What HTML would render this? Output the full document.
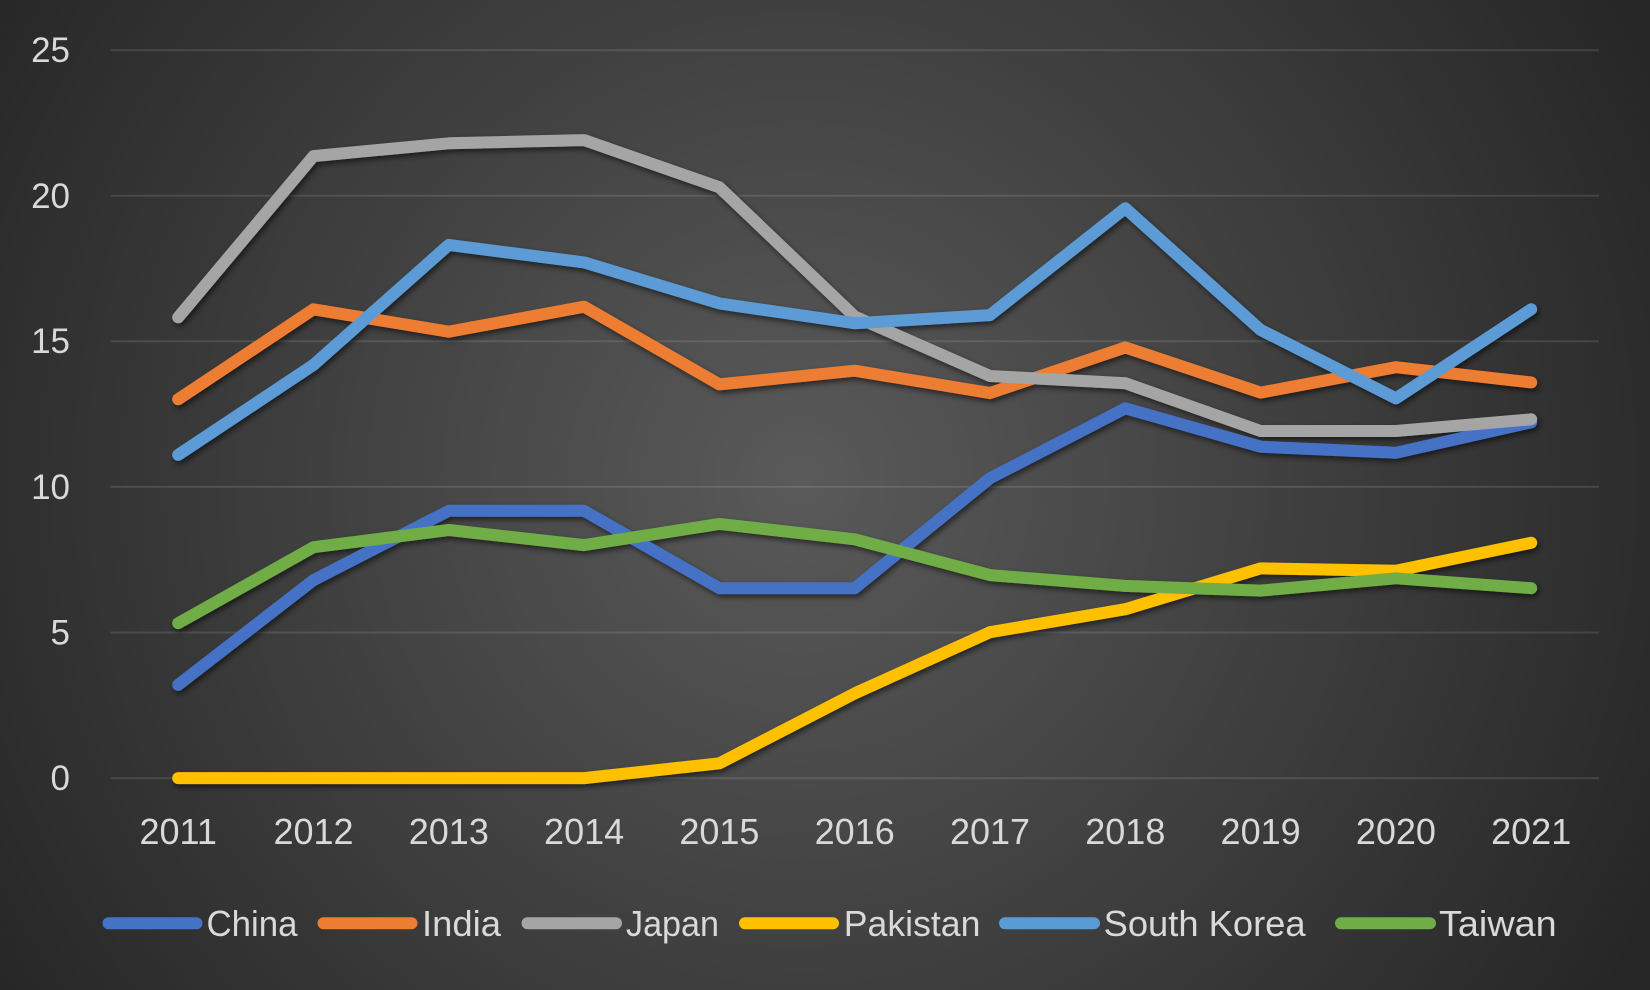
<!DOCTYPE html>
<html>
<head>
<meta charset="utf-8">
<style>
html,body{margin:0;padding:0;}
body{width:1650px;height:990px;overflow:hidden;background:#2a2a2a;}
svg{display:block;}
text{font-family:"Liberation Sans",sans-serif;fill:#d9d9d9;}
</style>
</head>
<body>
<svg width="1650" height="990" viewBox="0 0 1650 990" xmlns="http://www.w3.org/2000/svg">
<defs>
<radialGradient id="bg" cx="800" cy="480" r="960" gradientUnits="userSpaceOnUse">
<stop offset="0" stop-color="#5a5a5a"/>
<stop offset="1" stop-color="#262626"/>
</radialGradient>
<filter id="sh" x="-5%" y="-10%" width="110%" height="120%">
<feDropShadow dx="2" dy="3" stdDeviation="3" flood-color="#000" flood-opacity="0.55"/>
</filter>
</defs>
<rect x="0" y="0" width="1650" height="990" fill="url(#bg)"/>

<!-- gridlines -->
<g stroke="rgba(255,255,255,0.11)" stroke-width="2">
<line x1="110.5" y1="50.1" x2="1599" y2="50.1"/>
<line x1="110.5" y1="195.7" x2="1599" y2="195.7"/>
<line x1="110.5" y1="341.3" x2="1599" y2="341.3"/>
<line x1="110.5" y1="486.9" x2="1599" y2="486.9"/>
<line x1="110.5" y1="632.5" x2="1599" y2="632.5"/>
<line x1="110.5" y1="778.1" x2="1599" y2="778.1"/>
</g>

<!-- y labels -->
<g font-size="35" text-anchor="end">
<text x="70" y="790">0</text>
<text x="70" y="644.5">5</text>
<text x="70" y="499">10</text>
<text x="70" y="353">15</text>
<text x="70" y="208">20</text>
<text x="70" y="62">25</text>
</g>

<!-- x labels -->
<g font-size="36" text-anchor="middle">
<text x="178.2" y="844">2011</text>
<text x="313.5" y="844">2012</text>
<text x="448.8" y="844">2013</text>
<text x="584.1" y="844">2014</text>
<text x="719.4" y="844">2015</text>
<text x="854.7" y="844">2016</text>
<text x="990" y="844">2017</text>
<text x="1125.3" y="844">2018</text>
<text x="1260.6" y="844">2019</text>
<text x="1395.9" y="844">2020</text>
<text x="1531.2" y="844">2021</text>
</g>

<!-- series -->
<g fill="none" stroke-width="12" stroke-linejoin="round" stroke-linecap="round" filter="url(#sh)">
<polyline stroke="#4472C4" points="178.2,684.9 313.5,580.1 448.8,510.8 584.1,510.8 719.4,588.2 854.7,588.2 990,478.2 1125.3,408.3 1260.6,446.7 1395.9,452.8 1531.2,422.3"/>
<polyline stroke="#ED7D31" points="178.2,399.3 313.5,309.3 448.8,331.7 584.1,306.7 719.4,384.4 854.7,370.7 990,393.1 1125.3,347.4 1260.6,392.6 1395.9,367.2 1531.2,382.4"/>
<polyline stroke="#A5A5A5" points="178.2,317.4 313.5,156.1 448.8,143.3 584.1,140.1 719.4,187.3 854.7,316.5 990,376 1125.3,383.2 1260.6,431 1395.9,431 1531.2,419.3"/>
<polyline stroke="#FFC000" points="178.2,778.1 313.5,778.1 448.8,778.1 584.1,778.1 719.4,763.3 854.7,693.4 990,632.2 1125.3,609.2 1260.6,568.4 1395.9,570.8 1531.2,542.8"/>
<polyline stroke="#5B9BD5" points="178.2,454.9 313.5,364.9 448.8,244.9 584.1,262.4 719.4,303.4 854.7,323.2 990,315.1 1125.3,208.2 1260.6,329.9 1395.9,398.4 1531.2,309.3"/>
<polyline stroke="#70AD47" points="178.2,623.2 313.5,547.2 448.8,530 584.1,545.1 719.4,523.9 854.7,539.3 990,575.1 1125.3,585.9 1260.6,590.6 1395.9,578.3 1531.2,588.2"/>
</g>

<!-- legend -->
<g stroke-width="12" stroke-linecap="round">
<line x1="108.5" y1="923.3" x2="196.5" y2="923.3" stroke="#4472C4"/>
<line x1="323.5" y1="923.3" x2="411.5" y2="923.3" stroke="#ED7D31"/>
<line x1="527.5" y1="923.3" x2="616" y2="923.3" stroke="#A5A5A5"/>
<line x1="745" y1="923.3" x2="833" y2="923.3" stroke="#FFC000"/>
<line x1="1005" y1="923.3" x2="1094" y2="923.3" stroke="#5B9BD5"/>
<line x1="1341" y1="923.3" x2="1430" y2="923.3" stroke="#70AD47"/>
</g>
<g font-size="36">
<text x="206.5" y="936" textLength="91" lengthAdjust="spacingAndGlyphs">China</text>
<text x="422" y="936" textLength="79" lengthAdjust="spacingAndGlyphs">India</text>
<text x="626" y="936" textLength="93" lengthAdjust="spacingAndGlyphs">Japan</text>
<text x="843.8" y="936" textLength="136.6" lengthAdjust="spacingAndGlyphs">Pakistan</text>
<text x="1103.6" y="936" textLength="202" lengthAdjust="spacingAndGlyphs">South Korea</text>
<text x="1439" y="936" textLength="117.7" lengthAdjust="spacingAndGlyphs">Taiwan</text>
</g>
</svg>
</body>
</html>
